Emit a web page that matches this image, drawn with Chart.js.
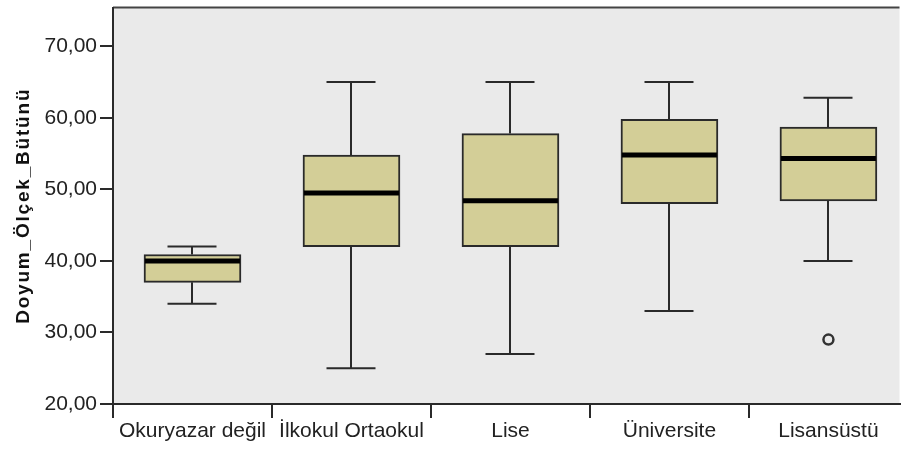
<!DOCTYPE html>
<html>
<head>
<meta charset="utf-8">
<script src="https://cdn.jsdelivr.net/npm/chart.js@4.4.1/dist/chart.umd.min.js"></script>
<style>
html,body{margin:0;padding:0;background:#ffffff;overflow:hidden;}
#wrap{width:907px;height:450px;position:relative;}
</style>
</head>
<body>
<div id="wrap"><canvas id="c"></canvas></div>
<script>
// ---- data ----
const categories   = ["Okuryazar değil", "İlkokul Ortaokul", "Lise", "Üniversite", "Lisansüstü"];
const whiskerLow   = [34.0, 25.0, 27.0, 33.0, 40.0];
const q1           = [37.0, 42.0, 42.0, 48.0, 48.4];
const median       = [40.0, 49.5, 48.4, 54.8, 54.3];
const q3           = [40.9, 54.8, 57.8, 59.8, 58.7];
const whiskerHigh  = [42.0, 65.0, 65.0, 65.0, 62.8];
const outlierCat   = [4];
const outlierValue = [29.0];
const yTicks       = [20, 30, 40, 50, 60, 70];
const yTickLabels  = ["20,00", "30,00", "40,00", "50,00", "60,00", "70,00"];
const yTitle       = "Doyum_Ölçek_Bütünü";

const FONT = "'Liberation Sans', Arial, sans-serif";
const TEXT = '#222222';
const LINE = '#2a2a2a';
const BOX_W = 97;
const CAP_W = 49;

const boxPlugin = {
  id: 'boxplot',
  beforeDraw(chart) {
    const {ctx, chartArea: a} = chart;
    ctx.save();
    ctx.fillStyle = '#EAEAEA';
    ctx.fillRect(a.left, a.top, a.right - a.left, a.bottom - a.top);
    ctx.strokeStyle = '#444';
    ctx.lineWidth = 2;
    ctx.beginPath();
    ctx.moveTo(a.left, a.top);
    ctx.lineTo(a.right, a.top);
    ctx.stroke();
    ctx.restore();
    const s = chart.scales.y;
    if (!s.__ls) {
      const orig = s.drawTitle;
      s.drawTitle = function () {
        const c = this.ctx;
        const p = c.letterSpacing;
        c.letterSpacing = '1.8px';
        orig.apply(this, arguments);
        c.letterSpacing = p;
      };
      s.__ls = true;
    }
  },
  beforeDatasetsDraw(chart) {
    const {ctx} = chart;
    const xs = chart.scales.x, ys = chart.scales.y;
    ctx.save();
    ctx.strokeStyle = LINE;
    ctx.lineWidth = 2;
    categories.forEach((c, i) => {
      const x = Math.round(xs.getPixelForValue(i));
      const yHi = ys.getPixelForValue(whiskerHigh[i]);
      const yLo = ys.getPixelForValue(whiskerLow[i]);
      const yQ1 = ys.getPixelForValue(q1[i]);
      const yQ3 = ys.getPixelForValue(q3[i]);
      ctx.beginPath();
      ctx.moveTo(x, yHi); ctx.lineTo(x, yQ3);
      ctx.moveTo(x, yQ1); ctx.lineTo(x, yLo);
      ctx.moveTo(x - CAP_W / 2, yHi); ctx.lineTo(x + CAP_W / 2, yHi);
      ctx.moveTo(x - CAP_W / 2, yLo); ctx.lineTo(x + CAP_W / 2, yLo);
      ctx.stroke();
    });
    ctx.restore();
  },
  afterDatasetsDraw(chart) {
    const {ctx} = chart;
    const xs = chart.scales.x, ys = chart.scales.y;
    ctx.save();
    ctx.strokeStyle = '#000';
    ctx.lineWidth = 5;
    categories.forEach((c, i) => {
      const x = xs.getPixelForValue(i);
      const y = ys.getPixelForValue(median[i]);
      ctx.beginPath();
      ctx.moveTo(x - BOX_W / 2 + 1, y);
      ctx.lineTo(x + BOX_W / 2 - 1, y);
      ctx.stroke();
    });
    ctx.restore();
  }
};

new Chart(document.getElementById('c'), {
  type: 'bar',
  data: {
    datasets: [
      {
        type: 'bar',
        data: categories.map((c, i) => ({x: i, y: [q1[i], q3[i]]})),
        backgroundColor: '#D3CE97',
        borderColor: LINE,
        borderWidth: 2,
        borderSkipped: false,
        barThickness: BOX_W
      },
      {
        type: 'scatter',
        data: outlierCat.map((c, k) => ({x: c, y: outlierValue[k]})),
        pointStyle: 'circle',
        pointRadius: 5,
        pointBorderWidth: 2.5,
        pointBorderColor: '#333',
        pointBackgroundColor: 'rgba(0,0,0,0)',
        showLine: false
      }
    ]
  },
  options: {
    responsive: true,
    maintainAspectRatio: false,
    animation: false,
    devicePixelRatio: 1,
    layout: {padding: {top: 5, left: 0, right: 0, bottom: 0}},
    plugins: {legend: {display: false}, tooltip: {enabled: false}},
    scales: {
      x: {
        type: 'linear',
        min: -0.5,
        max: 4.447,
        offset: false,
        afterBuildTicks: s => { s.ticks = categories.map((c, i) => ({value: i})); },
        afterFit: s => { s.height = 46; s.paddingLeft = 0; s.paddingRight = 0; },
        ticks: {
          callback: (v) => categories[Math.round(v)],
          autoSkip: false,
          maxRotation: 0,
          minRotation: 0,
          padding: 1,
          color: TEXT,
          font: {family: FONT, size: 21}
        },
        grid: {drawOnChartArea: false, drawTicks: true, tickLength: 14, tickColor: LINE, tickWidth: 2, lineWidth: 2, color: LINE},
        border: {display: true, color: LINE, width: 2}
      },
      y: {
        type: 'linear',
        min: 20,
        max: 75.42,
        afterBuildTicks: s => { s.ticks = yTicks.map(v => ({value: v})); },
        afterFit: s => { s.width = 113; s.paddingTop = 0; s.paddingBottom = 0; },
        ticks: {
          callback: (v) => yTickLabels[yTicks.indexOf(v)],
          padding: 3,
          color: TEXT,
          font: {family: FONT, size: 21}
        },
        grid: {drawOnChartArea: false, drawTicks: true, tickLength: 13, tickColor: LINE, tickWidth: 2, lineWidth: 2, color: LINE},
        border: {display: true, color: LINE, width: 2},
        title: {
          display: true,
          text: yTitle,
          color: '#111',
          font: {family: FONT, size: 19, weight: 'bold'},
          padding: {top: 12, bottom: 0}
        }
      }
    }
  },
  plugins: [boxPlugin]
});
</script>
</body>
</html>
